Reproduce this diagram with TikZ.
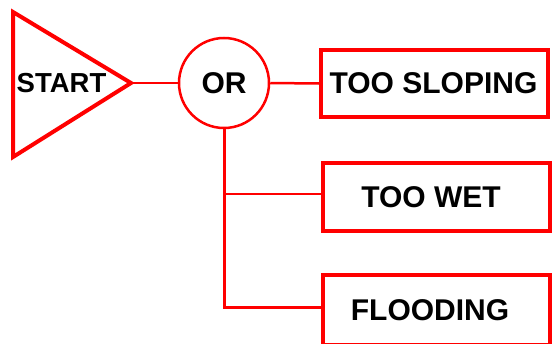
\documentclass[tikz,border=0pt]{standalone}
\usepackage{fontspec}
\setmainfont{Liberation Sans}
\begin{document}
\begin{tikzpicture}[x=1pt,y=-1pt,
  tree/.style={draw=red, line width=2.5pt},
  lbl/.style={font=\bfseries\fontsize{30}{32}\selectfont, text=black, inner sep=0pt},
  cause/.style={lbl, draw=red, line width=4pt, fill=white, minimum width=227pt, minimum height=68pt},
]
\useasboundingbox (0,0) rectangle (552,343);

% start symbol
\coordinate (tl) at (13,12);
\coordinate (bl) at (13,157);
\coordinate (apex) at (131,83);
\draw[red, line width=4pt, line join=miter] (tl) -- (apex) -- (bl) -- cycle;
\node[lbl, font=\bfseries\fontsize{27.5}{29}\selectfont] (start) at (61.5,83) {START};

% OR gate
\node[lbl, circle, draw=red, line width=2.5pt, minimum size=90pt] (or) at (224,83) {OR};

% causes
\node[cause, minimum height=67pt] (slope) at (434.5,83.5) {TOO SLOPING\kern2pt};
\node[cause] (wet) at (436.5,197) {TOO WET\kern11pt};
\node[cause, minimum height=70pt] (flood) at (436.5,310) {FLOODING\kern13pt};

% connectors
\draw[tree] (apex) -- (or);
\draw[tree] (or.east) -- (slope.west);
\draw[tree, line width=3pt] (or.south) |- ([yshift=3pt]flood.west);
\draw[tree] ([yshift=3pt]or.south |- wet.west) -- ([yshift=3pt]wet.west);
\end{tikzpicture}
\end{document}
